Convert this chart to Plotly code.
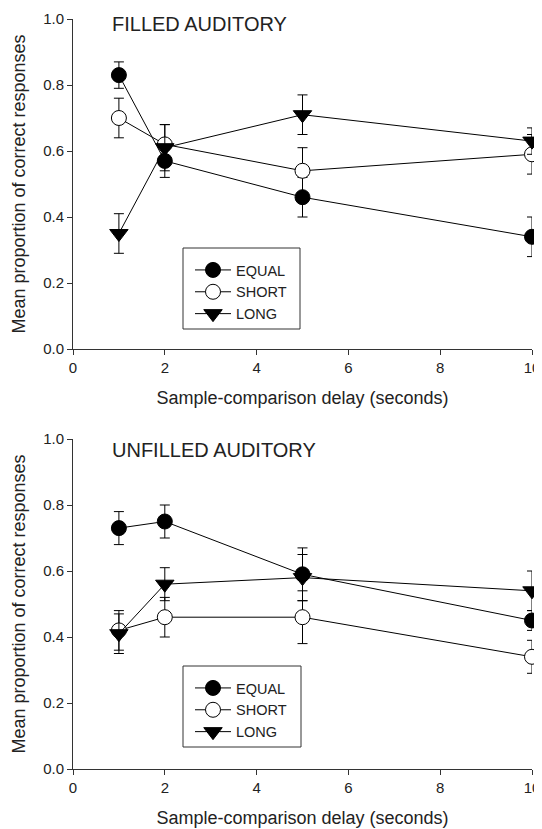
import plotly.graph_objects as go

delay = [1, 2, 5, 10]
series_names = ["EQUAL", "SHORT", "LONG"]

# Filled auditory
filled_equal = [0.83, 0.57, 0.46, 0.34]
filled_equal_err = [0.04, 0.05, 0.06, 0.06]
filled_short = [0.70, 0.62, 0.54, 0.59]
filled_short_err = [0.06, 0.06, 0.07, 0.06]
filled_long = [0.35, 0.61, 0.71, 0.63]
filled_long_err = [0.06, 0.07, 0.06, 0.04]

# Unfilled auditory
unfilled_equal = [0.73, 0.75, 0.59, 0.45]
unfilled_equal_err = [0.05, 0.05, 0.08, 0.03]
unfilled_short = [0.42, 0.46, 0.46, 0.34]
unfilled_short_err = [0.06, 0.06, 0.08, 0.05]
unfilled_long = [0.41, 0.56, 0.58, 0.54]
unfilled_long_err = [0.06, 0.05, 0.07, 0.06]

panel_titles = ["FILLED AUDITORY", "UNFILLED AUDITORY"]
x_title = "Sample-comparison delay (seconds)"
y_title = "Mean proportion of correct responses"
y_ticks = [0.0, 0.2, 0.4, 0.6, 0.8, 1.0]
y_ticklabels = ["0.0", "0.2", "0.4", "0.6", "0.8", "1.0"]
x_ticks = [0, 2, 4, 6, 8, 10]

# the page body adds an 8px offset; figure sized to fill the rest of the window
OFF = 8
W, H = 542 - OFF, 829 - OFF
FONT = "Liberation Sans, Arial, sans-serif"
TXT = "#222"


def px(x):
    return (x - OFF) / W


def py(y):
    return 1 - (y - OFF) / H


marker_styles = {
    "EQUAL": dict(symbol="circle", color="black", size=15, line=dict(color="black", width=1)),
    "SHORT": dict(symbol="circle", color="white", size=15, line=dict(color="black", width=1)),
    "LONG": dict(symbol="triangle-down", color="black", size=16, line=dict(color="black", width=1)),
}

fig = go.Figure()

panels = [
    ("x", "y", "legend", [filled_equal, filled_short, filled_long],
     [filled_equal_err, filled_short_err, filled_long_err]),
    ("x2", "y2", "legend2", [unfilled_equal, unfilled_short, unfilled_long],
     [unfilled_equal_err, unfilled_short_err, unfilled_long_err]),
]

for xa, ya, leg, vals, errs in panels:
    for name, v, e in zip(series_names, vals, errs):
        fig.add_trace(go.Scatter(
            x=delay, y=v, name=name, mode="lines+markers",
            xaxis=xa, yaxis=ya, legend=leg, cliponaxis=False,
            line=dict(color="black", width=1),
            marker=marker_styles[name],
            error_y=dict(type="data", array=e, visible=True, color="black",
                         thickness=1, width=5),
        ))

dom_x = [px(73), px(532)]
top_dom = [py(349), py(19)]
bot_dom = [py(769), py(439)]

axis_common_x = dict(
    range=[0, 10], tickvals=x_ticks, showgrid=False, zeroline=False,
    showline=True, linecolor="#333", linewidth=1, ticks="outside", ticklen=5,
    tickcolor="#333", tickfont=dict(size=15, family=FONT, color=TXT),
    title=dict(text=x_title, font=dict(size=18, family=FONT, color=TXT), standoff=16),
    automargin=False, domain=dom_x,
)
axis_common_y = dict(
    range=[0, 1.0], tickvals=y_ticks, ticktext=y_ticklabels, showgrid=False, zeroline=False,
    showline=True, linecolor="#333", linewidth=1, ticks="outside", ticklen=5,
    tickcolor="#333", tickfont=dict(size=15, family=FONT, color=TXT),
    title=dict(text=y_title, font=dict(size=18, family=FONT, color=TXT), standoff=12),
    automargin=False,
)

legend_common = dict(
    bgcolor="rgba(0,0,0,0)", borderwidth=0,
    font=dict(size=14.5, family=FONT, color=TXT),
    xanchor="left", yanchor="top", itemsizing="trace", itemwidth=36,
    tracegroupgap=0,
)

legend_boxes = [(183, 248, 300, 329), (183, 666, 301, 747)]
shapes = [
    dict(type="rect", xref="paper", yref="paper", x0=px(a), y0=py(d), x1=px(c), y1=py(b),
         line=dict(color="#333", width=1), fillcolor="rgba(0,0,0,0)", layer="above")
    for a, b, c, d in legend_boxes
]

fig.update_layout(
    width=W, height=H,
    margin=dict(l=0, r=0, t=0, b=0),
    paper_bgcolor="white", plot_bgcolor="white",
    xaxis=dict(**axis_common_x, anchor="y"),
    yaxis=dict(**axis_common_y, domain=top_dom, anchor="x"),
    xaxis2=dict(**axis_common_x, anchor="y2"),
    yaxis2=dict(**axis_common_y, domain=bot_dom, anchor="x2"),
    legend=dict(**legend_common, x=px(190), y=py(254)),
    legend2=dict(**legend_common, x=px(190), y=py(672)),
    shapes=shapes,
    annotations=[
        dict(text=panel_titles[0], xref="paper", yref="paper", x=px(110), y=py(24),
             xanchor="left", yanchor="middle", showarrow=False,
             font=dict(size=20, family=FONT, color=TXT)),
        dict(text=panel_titles[1], xref="paper", yref="paper", x=px(110), y=py(450),
             xanchor="left", yanchor="middle", showarrow=False,
             font=dict(size=20, family=FONT, color=TXT)),
    ],
)

fig.write_html("out.html")
